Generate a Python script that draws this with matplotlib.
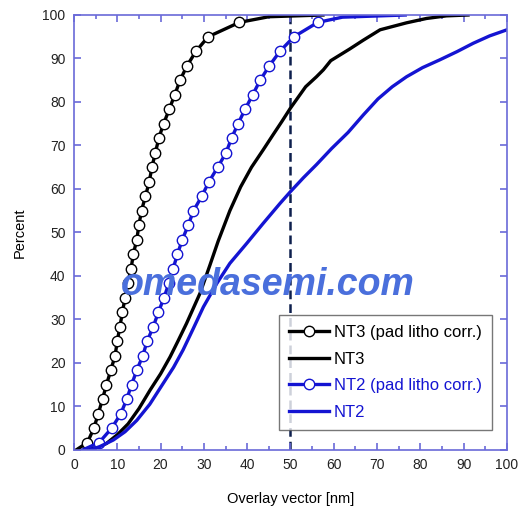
import matplotlib
matplotlib.use("Agg")
import matplotlib.pyplot as plt

plt.rcParams['font.family'] = ['Liberation Sans', 'DejaVu Sans']

# percent levels where the "pad litho corr." curves carry markers
pct_marks = [1.7, 5.0, 8.3, 11.7, 15.0, 18.3, 21.7, 25.0, 28.3, 31.7, 35.0, 38.3,
             41.7, 45.0, 48.3, 51.7, 55.0, 58.3, 61.7, 65.0, 68.3, 71.7, 75.0,
             78.3, 81.7, 85.0, 88.3, 91.7, 95.0, 98.3]

nt3_pad_x = [3.1, 4.6, 5.6, 6.6, 7.5, 8.5, 9.5, 10.0, 10.6, 11.2, 11.8, 12.4,
             13.2, 13.7, 14.5, 15.0, 15.6, 16.5, 17.4, 18.0, 18.8, 19.6, 20.7,
             22.0, 23.3, 24.5, 26.1, 28.2, 31.0, 38.2]
nt2_pad_x = [5.8, 8.7, 10.8, 12.2, 13.3, 14.5, 15.9, 16.9, 18.3, 19.5, 20.8, 21.9,
             22.9, 23.9, 25.0, 26.4, 27.6, 29.5, 31.2, 33.2, 35.1, 36.4, 37.9,
             39.5, 41.3, 43.0, 45.1, 47.6, 50.8, 56.3]

# ends of the marker curves (no markers there)
nt3_pad_head = ([0.5], [0.0])
nt3_pad_tail = ([45.0, 57.5], [99.6, 100.0])
nt2_pad_head = ([2.0], [0.0])
nt2_pad_tail = ([62.0, 76.5], [99.5, 100.0])

nt3_x = [2.9, 5.0, 7.5, 10.0, 12.5, 15.0, 17.6, 20.0, 22.2, 24.0, 26.0, 29.1,
         31.4, 33.3, 36.0, 38.5, 41.0, 43.7, 46.0, 48.0, 50.0, 53.5, 56.0, 57.6,
         59.3, 63.7, 66.8, 70.7, 76.8, 81.4, 86.0, 91.0]
nt3_y = [0.0, 0.5, 1.5, 3.5, 6.0, 9.5, 13.8, 17.5, 21.4, 25.0, 29.1, 36.0,
         42.5, 48.0, 55.0, 60.5, 65.0, 69.0, 72.5, 75.5, 78.6, 83.5, 85.8, 87.4,
         89.5, 92.2, 94.2, 96.6, 98.2, 99.2, 99.8, 100.0]

nt2_x = [3.7, 6.0, 9.1, 11.8, 14.5, 17.5, 20.6, 23.0, 25.2, 27.5, 29.9, 33.0,
         36.0, 39.9, 43.7, 47.6, 50.0, 53.0, 56.0, 59.5, 63.3, 66.8, 70.2, 73.5,
         76.8, 80.5, 84.5, 88.5, 92.2, 96.0, 100.0]
nt2_y = [0.0, 0.8, 2.3, 4.2, 6.8, 10.5, 15.3, 19.0, 23.0, 27.8, 32.9, 38.3,
         42.9, 47.5, 52.1, 56.7, 59.4, 62.6, 65.6, 69.3, 73.0, 77.0, 80.7, 83.5,
         85.8, 87.9, 89.7, 91.6, 93.5, 95.2, 96.6]

labels = ["NT3 (pad litho corr.)", "NT3", "NT2 (pad litho corr.)", "NT2"]

BLUE = '#1414d2'
SPINE = '#6a6ad8'

fig = plt.figure(figsize=(5.32, 5.17), dpi=100)
ax = fig.add_axes([0.139, 0.1296, 0.814, 0.8414])

n = len(pct_marks)
x = nt3_pad_head[0] + nt3_pad_x + nt3_pad_tail[0]
y = nt3_pad_head[1] + pct_marks + nt3_pad_tail[1]
ax.plot(x, y, color='black', lw=2.4, marker='o', ms=7.5, mfc='white',
        mec='black', mew=1.0, markevery=list(range(1, n + 1)), label=labels[0],
        solid_joinstyle='round')
ax.plot(nt3_x, nt3_y, color='black', lw=2.4, label=labels[1],
        solid_joinstyle='round')

x = nt2_pad_head[0] + nt2_pad_x + nt2_pad_tail[0]
y = nt2_pad_head[1] + pct_marks + nt2_pad_tail[1]
ax.plot(x, y, color=BLUE, lw=2.4, marker='o', ms=7.5, mfc='white',
        mec=BLUE, mew=1.0, markevery=list(range(1, n + 1)), label=labels[2],
        solid_joinstyle='round')
ax.plot(nt2_x, nt2_y, color=BLUE, lw=2.4, label=labels[3],
        solid_joinstyle='round')

ax.axvline(50, color='#0d1f4d', lw=1.8, ls=(0, (3.5, 2)), zorder=1)

ax.set_xlim(0, 100)
ax.set_ylim(0, 100)
ax.set_xticks(range(0, 101, 10))
ax.set_xticks(range(5, 100, 10), minor=True)
ax.set_yticks(range(0, 101, 10))
for s in ax.spines.values():
    s.set_color(SPINE)
    s.set_linewidth(1.2)
ax.tick_params(which='both', direction='in', top=True, right=True,
               color=SPINE, width=1.2, labelsize=10, labelcolor='#222222', pad=6)
ax.tick_params(which='major', length=5)
ax.tick_params(which='minor', length=3)
ax.set_xlabel("Overlay vector [nm]", fontsize=10.5, labelpad=14)
ax.set_ylabel("Percent", fontsize=10.5, labelpad=11)

leg = ax.legend(loc='lower right', bbox_to_anchor=(0.965, 0.046), fontsize=12,
                frameon=True, fancybox=False, edgecolor='#555555',
                handlelength=2.4, handletextpad=0.3, borderpad=0.6,
                labelspacing=0.7, borderaxespad=0,
                labelcolor=['black', 'black', BLUE, BLUE])
leg.get_frame().set_linewidth(1.0)

ax.text(44.8, 37.9, "omedasemi.com", fontsize=27, fontweight='bold',
        fontstyle='italic', color='#4a6fdc', ha='center', va='center', zorder=5)

fig.savefig("out.png", dpi=100)
